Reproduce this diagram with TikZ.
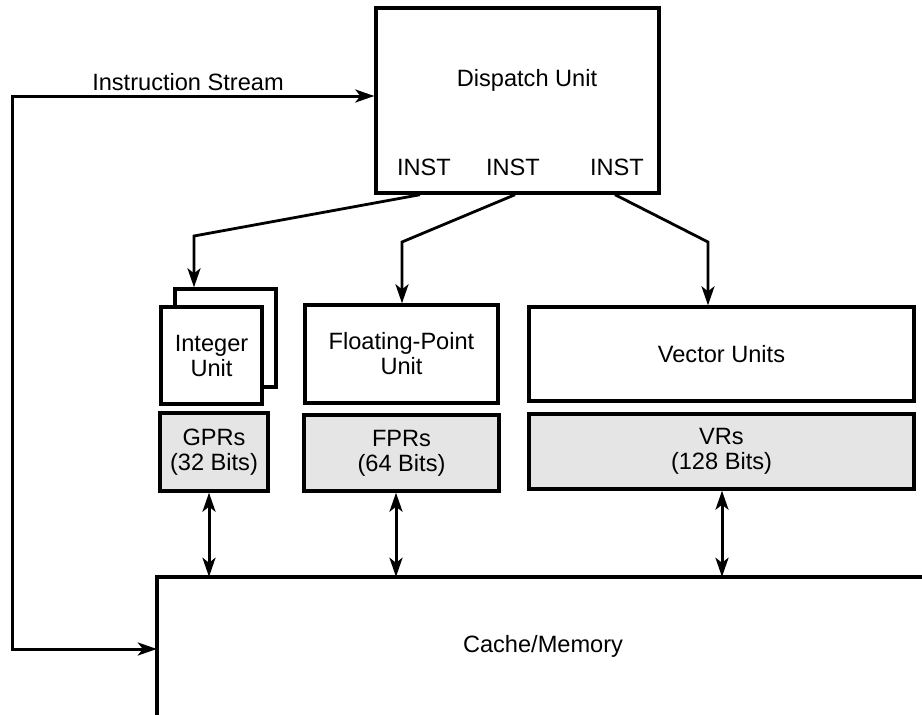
\documentclass[tikz,border=0pt]{standalone}
\usepackage{fontspec}
\setmainfont{Liberation Sans}
\usetikzlibrary{arrows.meta}
\begin{document}
\begin{tikzpicture}[x=1pt,y=-1pt,
  box/.style={draw,line width=3.4pt,rectangle,inner sep=0pt,fill=white,align=center,font=\fontsize{23.6}{25}\selectfont},
  reg/.style={box,fill=black!10},
  lbl/.style={inner sep=0pt,font=\fontsize{23.6}{25}\selectfont},
  arr/.style={line width=2.8pt,-{Stealth[length=19pt,width=13pt,inset=5pt]}},
  darr/.style={line width=3pt,{Stealth[length=19pt,width=13pt,inset=5pt]}-{Stealth[length=19pt,width=13pt,inset=5pt]}}]
\useasboundingbox (0,0) rectangle (922,715);
% dispatch
\node[box,minimum width=283pt,minimum height=185pt] (disp) at (517.5,100.5) {};
\node[lbl] (dlabel) at (527,80) {Dispatch Unit};
\node[lbl] (inst1) at (424,167) {INST};
\node[lbl] (inst2) at (513,167) {INST};
\node[lbl] (inst3) at (617,167) {INST};
% units
\node[box,minimum width=101pt,minimum height=98pt] (intback) at (225.5,338) {};
\node[box,minimum width=101pt,minimum height=97pt] (int) at (211.5,355.5) {Integer\\Unit};
\node[box,minimum width=193pt,minimum height=98pt] (fpu) at (401.5,354) {Floating-Point\\Unit};
\node[box,minimum width=385pt,minimum height=94pt] (vec) at (721.5,354) {Vector Units};
% registers
\node[reg,minimum width=108pt,minimum height=78pt] (gpr) at (214,452) {GPRs\\(32 Bits)};
\node[reg,minimum width=195pt,minimum height=76pt] (fpr) at (401.5,453) {FPRs\\(64 Bits)};
\node[reg,minimum width=385pt,minimum height=75pt] (vr) at (721.5,451.5) {VRs\\(128 Bits)};
% cache
\node[minimum width=765pt,minimum height=138pt,inner sep=0pt] (cache) at (539.5,646) {};
\draw[line width=3.4pt] (cache.south west) -- (cache.north west) -- (cache.north east);
\node[lbl] (clabel) at (543,646) {Cache/Memory};
% instruction stream
\coordinate (lc) at (12,96);
\draw[darr,line join=miter] ([yshift=-3pt]cache.west) -| (lc) -- ([yshift=4.5pt]disp.west);
\node[lbl] (islabel) at (188,82) {Instruction Stream};
% dispatch arrows
\coordinate (b1) at (194,236);
\coordinate (b2) at (402,242);
\coordinate (b3) at (708,242);
\draw[arr,line join=miter] ([xshift=-97.5pt]disp.south) -- (b1) -- (b1 |- intback.north);
\draw[arr,line join=miter] ([xshift=-2.5pt]disp.south) -- (b2) -- (b2 |- fpu.north);
\draw[arr,line join=miter] ([xshift=97.5pt]disp.south) -- (b3) -- (b3 |- vec.north);
% register <-> cache
\draw[darr] (209,0 |- gpr.south) -- (209,0 |- cache.north);
\draw[darr] (396,0 |- fpr.south) -- (396,0 |- cache.north);
\draw[darr] (722,0 |- vr.south) -- (722,0 |- cache.north);
\end{tikzpicture}
\end{document}
